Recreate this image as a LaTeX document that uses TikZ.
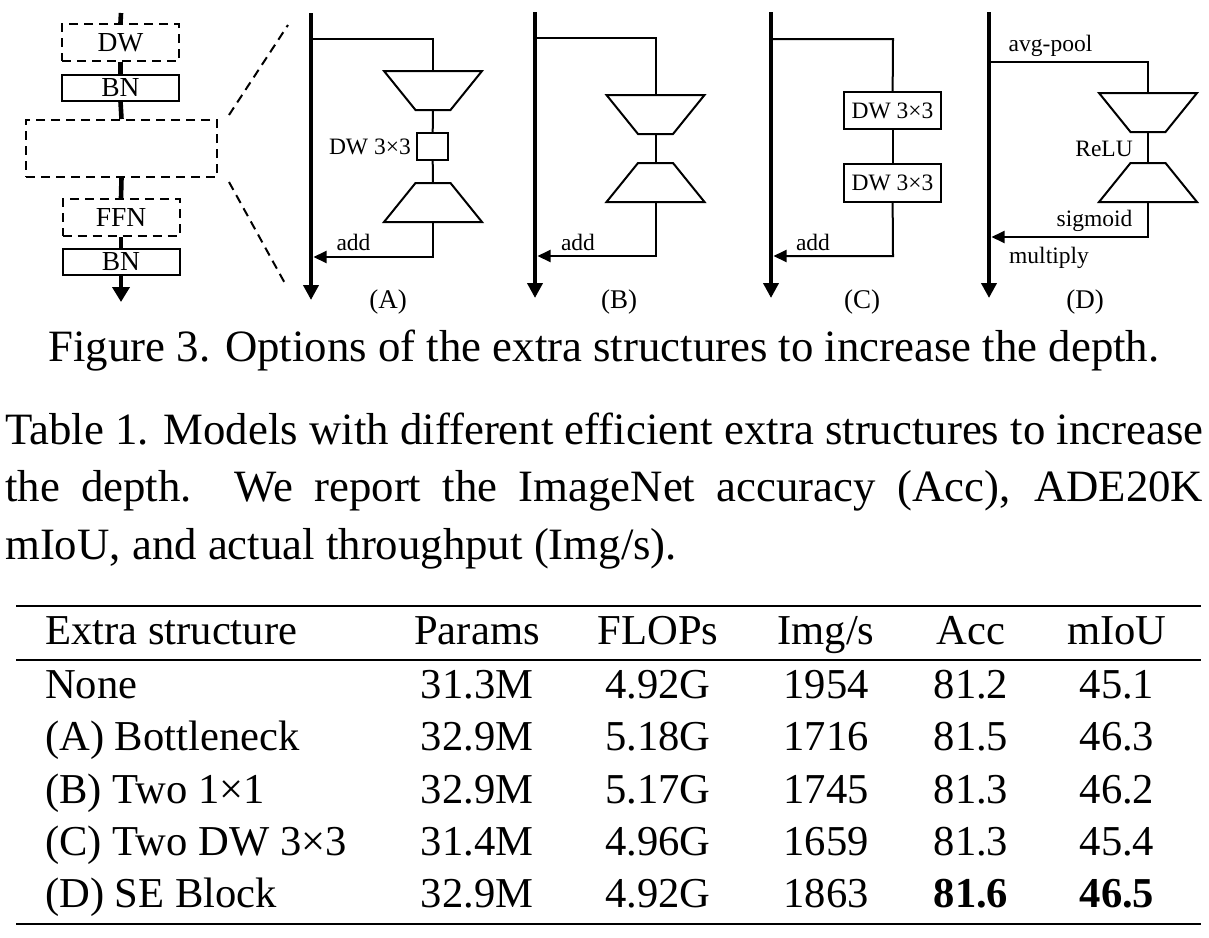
\documentclass[tikz,border=0pt]{standalone}
\usepackage{fontspec}
\setmainfont{Liberation Serif}
\usetikzlibrary{arrows.meta}
\tikzset{
  lw/.style={line width=2pt},
  trunk/.style={line width=4.8pt,-{Triangle[length=15pt,width=15pt]}},
  back/.style={line width=2pt,-{Triangle[length=13pt,width=12pt]}},
  dashbox/.style={draw,line width=2pt,dash pattern=on 9pt off 6pt,fill=white,inner sep=0pt},
  solidbox/.style={draw,line width=2pt,fill=white,inner sep=0pt},
  trap/.style={line width=2pt,line join=miter},
  boxfont/.style={font=\fontsize{27.5}{32}\selectfont},
  smalltxt/.style={font=\fontsize{23.5}{28}\selectfont,inner sep=0pt},
  plabel/.style={font=\fontsize{27}{32}\selectfont,inner sep=0pt},
  captxt/.style={font=\fontsize{44.8}{54}\selectfont,inner sep=0pt,anchor=base west},
  tabtxt/.style={font=\fontsize{42.6}{51}\selectfont,inner sep=0pt,anchor=base},
  downtrap/.pic={\draw[trap] (-49,0) -- (49,0) -- (17.5,39) -- (-17.5,39) -- cycle;
    \coordinate (-top) at (0,0); \coordinate (-bot) at (0,39);},
  uptrap/.pic={\draw[trap] (-17.5,0) -- (17.5,0) -- (49,39) -- (-49,39) -- cycle;
    \coordinate (-top) at (0,0); \coordinate (-bot) at (0,39);},
}
\begin{document}
\begin{tikzpicture}[x=1pt,y=-1pt]
\useasboundingbox (0,0) rectangle (1209,937);

% ---------- left column ----------
\coordinate (L0) at (121,13);
\coordinate (L1) at (121,302);
\node[dashbox,boxfont,minimum width=117pt,minimum height=37pt] (dw) at (120.5,42.5) {DW};
\node[solidbox,boxfont,minimum width=117pt,minimum height=26pt] (bn1) at (120.5,87.5) {BN};
\node[dashbox,minimum width=191pt,minimum height=57pt] (blk) at (121.5,148.5) {};
\node[dashbox,boxfont,minimum width=117pt,minimum height=37pt] (ffn) at (121,217.5) {FFN};
\node[solidbox,boxfont,minimum width=117pt,minimum height=26pt] (bn2) at (121,262) {BN};
\draw[line width=4.6pt] (L0) -- (dw.north);
\draw[line width=4.6pt] (dw.south) -- (bn1.north);
\draw[line width=4.6pt] (bn1.south) -- (blk.north);
\draw[line width=4.6pt] (blk.south) -- (ffn.north);
\draw[line width=4.6pt] (ffn.south) -- (bn2.north);
\draw[line width=4.6pt,-{Triangle[length=15pt,width=17pt]}] (bn2.south) -- (L1);
\coordinate (z1a) at (229,115); \coordinate (z1b) at (288,25);
\coordinate (z2a) at (229,182); \coordinate (z2b) at (287,287);
\draw[lw,dash pattern=on 9pt off 6pt] (z1a) -- (z1b);
\draw[lw,dash pattern=on 9pt off 6pt] (z2a) -- (z2b);

% ---------- (A) ----------
\coordinate (A0) at (311,13); \coordinate (A1) at (311,300);
\draw[trunk] (A0) -- (A1);
\coordinate (As) at (311,39); \coordinate (Ac) at (433,39);
\pic (At1) at (433,71) {downtrap};
\node[solidbox,minimum width=31pt,minimum height=27pt] (Adw) at (432.5,146.5) {};
\pic (At2) at (433,183) {uptrap};
\coordinate (Ae) at (433,257); \coordinate (Aj) at (313.5,257);
\draw[lw] (As) -- (Ac) -- (At1-top);
\draw[lw] (At1-bot) -- (Adw);
\draw[lw] (Adw) -- (At2-top);
\draw[back] (At2-bot) -- (Ae) -- (Aj);
\node[smalltxt,anchor=east] (Adwl) at (411,147) {DW 3×3};
\node[smalltxt] (Aadd) at (353.5,242) {add};
\node[plabel] (Alab) at (388,302) {(A)};

% ---------- (B) ----------
\coordinate (B0) at (535,12); \coordinate (B1) at (535,298);
\draw[trunk] (B0) -- (B1);
\coordinate (Bs) at (535,38); \coordinate (Bc) at (655.5,38);
\pic (Bt1) at (655.5,95) {downtrap};
\pic (Bt2) at (655.5,163) {uptrap};
\coordinate (Be) at (655.5,256); \coordinate (Bj) at (537.5,256);
\draw[lw] (Bs) -- (Bc) -- (Bt1-top);
\draw[lw] (Bt1-bot) -- (Bt2-top);
\draw[back] (Bt2-bot) -- (Be) -- (Bj);
\node[smalltxt] (Badd) at (578,242) {add};
\node[plabel] (Blab) at (619,302) {(B)};

% ---------- (C) ----------
\coordinate (C0) at (771,12); \coordinate (C1) at (771,298);
\draw[trunk] (C0) -- (C1);
\coordinate (Cs) at (771,39); \coordinate (Cc) at (893,39);
\node[solidbox,smalltxt,minimum width=97pt,minimum height=37pt] (Cb1) at (892.5,110.5) {DW 3×3};
\node[solidbox,smalltxt,minimum width=97pt,minimum height=38pt] (Cb2) at (892.5,183) {DW 3×3};
\coordinate (Ce) at (893,256); \coordinate (Cj) at (773.5,256);
\draw[lw] (Cs) -- (Cc) -- (Cb1);
\draw[lw] (Cb1) -- (Cb2);
\draw[back] (Cb2) -- (Ce) -- (Cj);
\node[smalltxt] (Cadd) at (813,242) {add};
\node[plabel] (Clab) at (862,302) {(C)};

% ---------- (D) ----------
\coordinate (D0) at (989,12); \coordinate (D1) at (989,298);
\draw[trunk] (D0) -- (D1);
\coordinate (Ds) at (989,62); \coordinate (Dc) at (1148,62);
\pic (Dt1) at (1148,93) {downtrap};
\pic (Dt2) at (1148,163) {uptrap};
\coordinate (De) at (1148,237); \coordinate (Dj) at (991.5,237);
\draw[lw] (Ds) -- (Dc) -- (Dt1-top);
\draw[lw] (Dt1-bot) -- (Dt2-top);
\draw[back] (Dt2-bot) -- (De) -- (Dj);
\node[smalltxt] (Dpool) at (1050.5,46) {avg-pool};
\node[smalltxt,anchor=east] (Drelu) at (1133,148.5) {ReLU};
\node[smalltxt] (Dsig) at (1094.5,221) {sigmoid};
\node[smalltxt] (Dmul) at (1049,258) {multiply};
\node[plabel] (Dlab) at (1085,302) {(D)};

% ---------- captions ----------
\node[captxt,anchor=base] (fig) at (604,361) {Figure 3. Options of the extra structures to increase the depth.};
\node[captxt] (t1) at (5,444) {\makebox[1198pt][s]{Table 1. Models with different efficient extra structures to increase}};
\node[captxt] (t2) at (5,501) {\makebox[1198pt][s]{the depth.\ \ We report the ImageNet accuracy (Acc), ADE20K}};
\node[captxt] (t3) at (5,559) {mIoU, and actual throughput (Img/s).};

% ---------- table ----------
\draw[line width=1.8pt] (16,606) -- (1201,606);
\draw[line width=1.3pt] (16,660) -- (1201,660);
\draw[line width=1.8pt] (16,924) -- (1201,924);
\node[tabtxt,anchor=base west] (h0) at (45,644) {Extra structure};
\node[tabtxt] (h1) at (477,644) {Params};
\node[tabtxt] (h2) at (658,644) {FLOPs};
\node[tabtxt] (h3) at (826,644) {Img/s};
\node[tabtxt] (h4) at (971,644) {Acc};
\node[tabtxt] (h5) at (1117,644) {mIoU};
\foreach \y/\a/\b/\c/\d/\e/\f/\n in {
  698/None/31.3M/4.92G/1954/81.2/45.1/r1,
  750/(A) Bottleneck/32.9M/5.18G/1716/81.5/46.3/r2,
  803/(B) Two 1×1/32.9M/5.17G/1745/81.3/46.2/r3,
  855/(C) Two DW 3×3/31.4M/4.96G/1659/81.3/45.4/r4,
  907/(D) SE Block/32.9M/4.92G/1863/\textbf{81.6}/\textbf{46.5}/r5}{
  \node[tabtxt,anchor=base west] (\n c0) at (45,\y) {\a};
  \node[tabtxt] (\n c1) at (477,\y) {\b};
  \node[tabtxt] (\n c2) at (658,\y) {\c};
  \node[tabtxt] (\n c3) at (826,\y) {\d};
  \node[tabtxt] (\n c4) at (971,\y) {\e};
  \node[tabtxt] (\n c5) at (1117,\y) {\f};
}
\end{tikzpicture}
\end{document}
